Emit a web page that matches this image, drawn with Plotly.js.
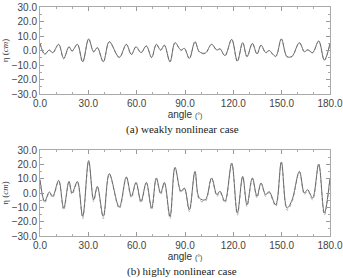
<!DOCTYPE html>
<html><head><meta charset="utf-8">
<script src="https://cdn.plot.ly/plotly-3.0.1.min.js"></script>
<style>html,body{margin:0;padding:0;background:#fff}#c{width:343px;height:278px}</style>
</head><body><div id="c"></div>
<script>
const angle = [0,2.9,5.8,7.9,11.6,14.7,18,19.9,23.2,26.5,30.2,33.3,35.6,39.3,43,49.2,53.6,56.7,59.6,62.7,66,69.3,72.2,74.9,77.2,80.7,83.8,87.5,89.6,92.7,96.2,98.9,102.6,106.5,109.8,111.7,114.8,119,122.5,125.8,128.5,131.8,134.7,137.2,140.1,142.2,146.3,149.8,153.3,156.4,161,164.1,166.1,169.2,173,176.5,180];
const weakMeasured = [5.0,-2.4,0.3,-1.5,4.3,-5.4,2.6,-0.3,4.3,-7.7,8.0,-0.8,2.0,-7.7,6.1,-4.7,4.3,-2.7,2.6,-1.4,3.2,-4.7,4.3,0.3,3.7,-7.7,5.4,0.3,1.5,-5.4,6.1,-0.8,-1.8,4.3,0.3,1.2,-3.5,7.7,-7.3,5.4,-4.2,4.9,-2.3,3.7,-1.4,0.0,-4.0,8.0,-4.2,-4.0,5.4,-0.8,0.5,-1.4,6.6,-6.6,5.0];
const weakComputed = [4.6,-2.8,0.1,-1.8,4.1,-5.8,2.4,-0.6,4.1,-8.1,7.8,-1.1,1.8,-8.0,5.9,-5.0,4.1,-3.0,2.4,-1.7,3.0,-5.0,4.1,0.0,3.5,-8.0,5.2,0.0,1.3,-5.7,5.9,-1.1,-2.1,4.1,0.0,1.0,-3.8,7.5,-7.7,5.2,-4.5,4.7,-2.6,3.5,-1.7,-0.3,-4.3,7.8,-4.5,-4.3,5.2,-1.1,0.3,-1.7,6.4,-7.0,4.8];
const highMeasured = [9.3,-5.8,0.7,-2.3,8.8,-10.5,8.1,0.0,8.0,-16.3,22.6,-4.7,4.6,-16.3,13.5,-9.8,11.2,-2.3,7.4,-5.8,7.4,-10.5,10.5,0.0,7.4,-16.3,17.9,1.2,3.5,-11.7,15.1,-3.5,-4.7,10.5,-1.2,1.2,-5.8,20.9,-14.0,11.6,-8.2,10.5,-2.3,7.0,-1.2,1.0,-8.2,21.6,-10.5,-5.0,15.1,0.0,2.3,-3.5,20.2,-14.0,10.5];
const highComputed = [8.6,-7.0,0.2,-3.4,8.2,-12.0,7.5,-1.2,7.4,-18.0,21.8,-6.0,4.0,-18.0,13.0,-11.0,10.6,-3.5,6.8,-7.0,6.8,-12.0,10.0,-1.2,6.8,-18.0,17.2,0.2,2.8,-13.0,14.5,-4.8,-6.0,10.0,-2.4,0.4,-7.0,20.2,-15.5,11.0,-9.5,10.0,-3.5,6.5,-2.4,0.2,-9.5,21.0,-12.0,-6.3,14.5,-1.2,1.6,-4.8,19.5,-15.5,9.8];
const xTicks = [0,30,60,90,120,150,180];
const yTicks = [-30,-20,-10,0,10,20,30];

const solid = {color:'#6a6a6a', width:1, shape:'spline', smoothing:1};
const dashed = {color:'#aaa', width:1, dash:'dot', shape:'spline', smoothing:1};
const traces = [
  {x:angle, y:weakComputed, xaxis:'x', yaxis:'y', mode:'lines', line:dashed},
  {x:angle, y:weakMeasured, xaxis:'x', yaxis:'y', mode:'lines', line:solid},
  {x:angle, y:highComputed, xaxis:'x2', yaxis:'y2', mode:'lines', line:dashed},
  {x:angle, y:highMeasured, xaxis:'x2', yaxis:'y2', mode:'lines', line:solid}
];
const tf = {family:'Liberation Sans, Arial, sans-serif', size:10, color:'#444'};
function xa(anchor){
  return {anchor:anchor, range:[0,180], tickvals:xTicks, tickformat:'.1f', ticks:'inside', ticklen:4,
    tickcolor:'#999', showline:true, linecolor:'#aaa', linewidth:1, mirror:'ticks', showgrid:false, zeroline:false,
    minor:{dtick:10, ticks:'inside', ticklen:2, tickcolor:'#aaa'}, tickfont:tf,
    title:{text:'angle <span style="font-size:7px">(°)</span>', font:{family:'Liberation Sans, Arial, sans-serif', size:10, color:'#333'}, standoff:2}};
}
function ya(anchor, dom){
  return {anchor:anchor, domain:dom, range:[-30,30], tickvals:yTicks, tickformat:'.1f', ticks:'inside', ticklen:4,
    tickcolor:'#999', showline:true, linecolor:'#aaa', linewidth:1, mirror:'ticks', showgrid:false, zeroline:false,
    minor:{dtick:5, ticks:'inside', ticklen:2, tickcolor:'#aaa'}, tickfont:tf,
    title:{text:'η (<i>cm</i>)', font:{family:'Liberation Serif, Times New Roman, serif', size:9, color:'#333'}, standoff:3}};
}
const layout = {
  width:343, height:278, margin:{l:40, r:13, t:7, b:42}, showlegend:false,
  paper_bgcolor:'#fff', plot_bgcolor:'#fff',
  xaxis:xa('y'), yaxis:ya('x',[0.62,1]),
  xaxis2:xa('y2'), yaxis2:ya('x2',[0,0.3755]),
  annotations:[
    {text:'(a) weakly nonlinear case', xref:'paper', yref:'paper', x:0.49, y:0.463, yanchor:'middle', showarrow:false,
     font:{family:'Liberation Serif, Times New Roman, serif', size:11, color:'#222'}},
    {text:'(b) highly nonlinear case', xref:'paper', yref:'paper', x:0.49, y:-0.157, yanchor:'middle', showarrow:false,
     font:{family:'Liberation Serif, Times New Roman, serif', size:11, color:'#222'}}
  ]
};
Plotly.newPlot('c', traces, layout, {staticPlot:true, displayModeBar:false});
</script></body></html>
